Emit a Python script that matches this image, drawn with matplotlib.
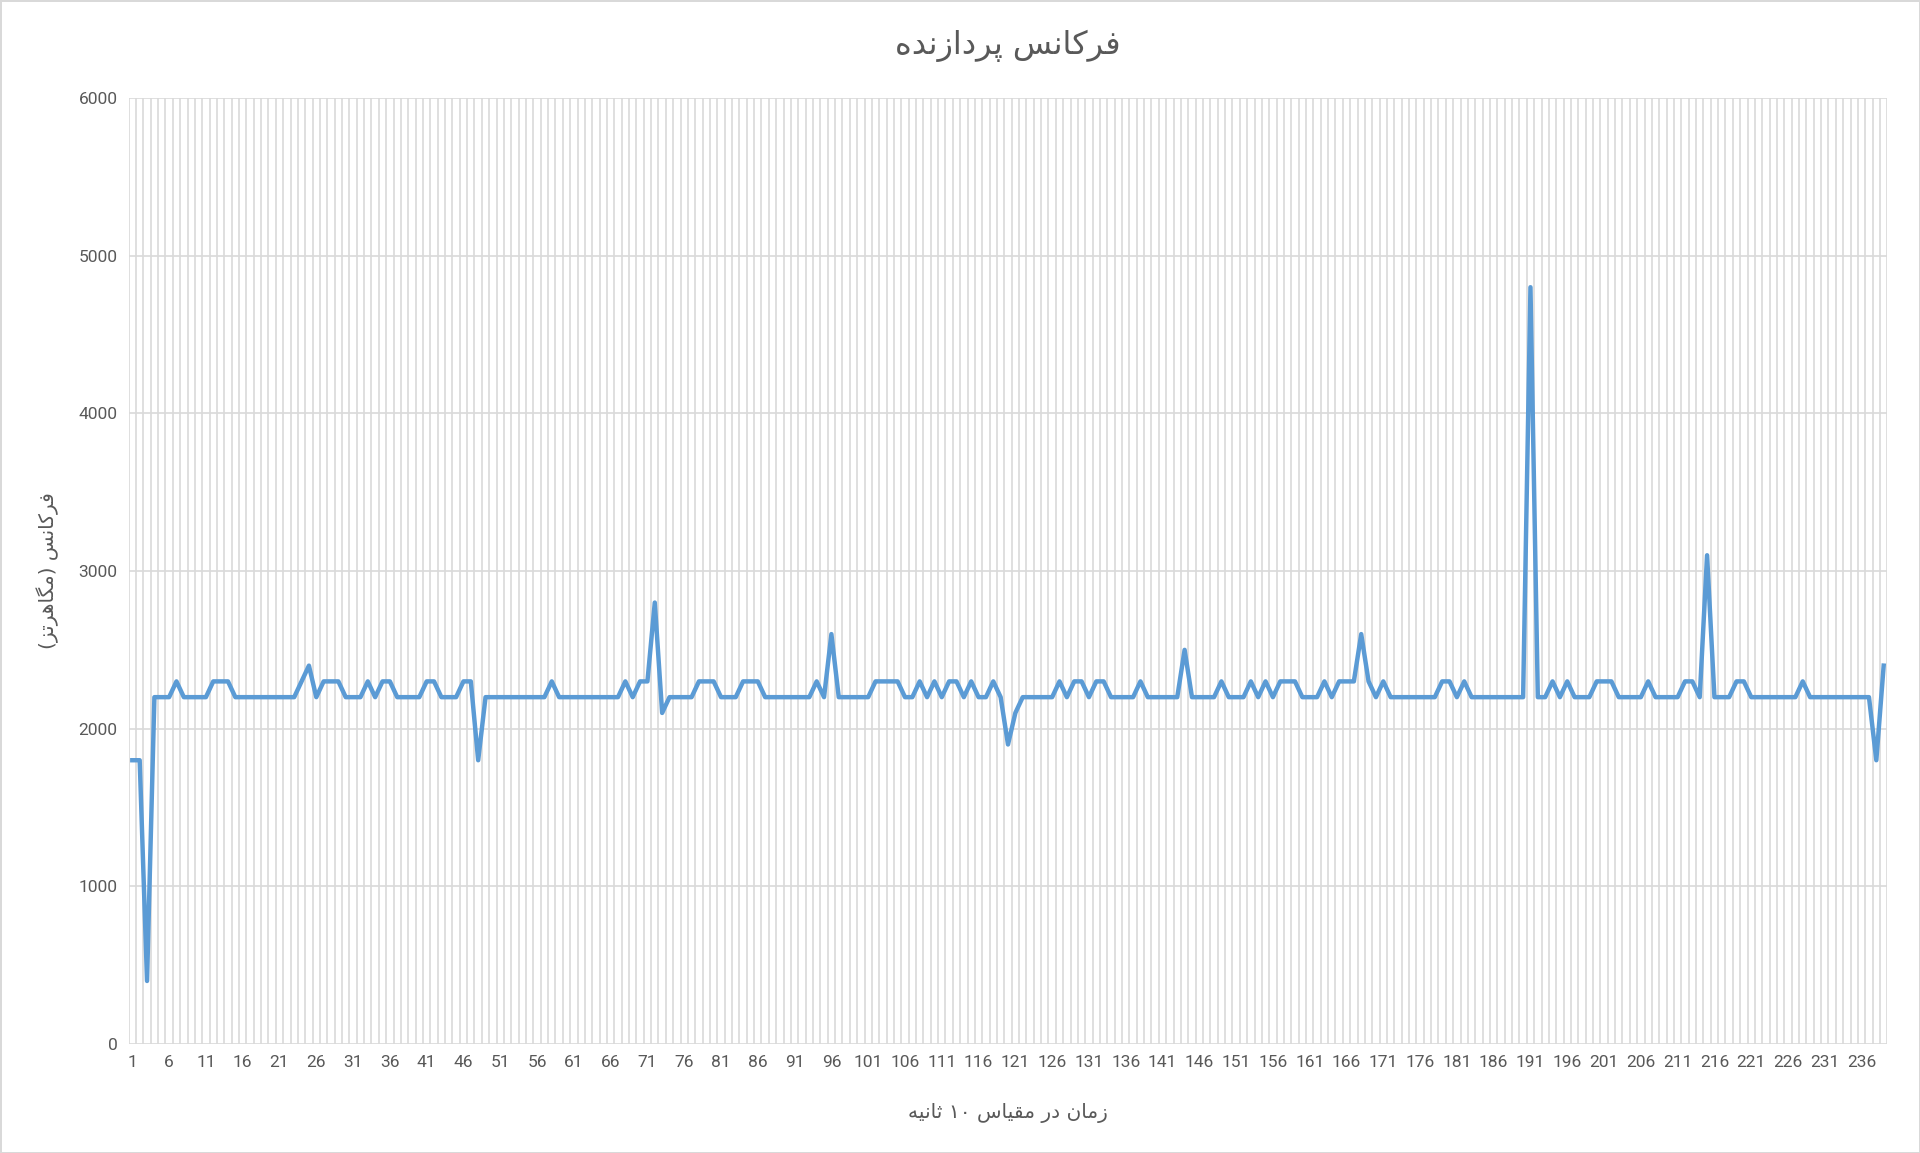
import matplotlib

matplotlib.use("Agg")

import matplotlib.pyplot as plt  # noqa: E402
import numpy as np  # noqa: E402

# processor frequency (MHz), one sample per 10 s
freq = [
    1800, 1800, 400, 2200, 2200, 2200, 2300, 2200, 2200, 2200,
    2200, 2300, 2300, 2300, 2200, 2200, 2200, 2200, 2200, 2200,
    2200, 2200, 2200, 2300, 2400, 2200, 2300, 2300, 2300, 2200,
    2200, 2200, 2300, 2200, 2300, 2300, 2200, 2200, 2200, 2200,
    2300, 2300, 2200, 2200, 2200, 2300, 2300, 1800, 2200, 2200,
    2200, 2200, 2200, 2200, 2200, 2200, 2200, 2300, 2200, 2200,
    2200, 2200, 2200, 2200, 2200, 2200, 2200, 2300, 2200, 2300,
    2300, 2800, 2100, 2200, 2200, 2200, 2200, 2300, 2300, 2300,
    2200, 2200, 2200, 2300, 2300, 2300, 2200, 2200, 2200, 2200,
    2200, 2200, 2200, 2300, 2200, 2600, 2200, 2200, 2200, 2200,
    2200, 2300, 2300, 2300, 2300, 2200, 2200, 2300, 2200, 2300,
    2200, 2300, 2300, 2200, 2300, 2200, 2200, 2300, 2200, 1900,
    2100, 2200, 2200, 2200, 2200, 2200, 2300, 2200, 2300, 2300,
    2200, 2300, 2300, 2200, 2200, 2200, 2200, 2300, 2200, 2200,
    2200, 2200, 2200, 2500, 2200, 2200, 2200, 2200, 2300, 2200,
    2200, 2200, 2300, 2200, 2300, 2200, 2300, 2300, 2300, 2200,
    2200, 2200, 2300, 2200, 2300, 2300, 2300, 2600, 2300, 2200,
    2300, 2200, 2200, 2200, 2200, 2200, 2200, 2200, 2300, 2300,
    2200, 2300, 2200, 2200, 2200, 2200, 2200, 2200, 2200, 2200,
    4800, 2200, 2200, 2300, 2200, 2300, 2200, 2200, 2200, 2300,
    2300, 2300, 2200, 2200, 2200, 2200, 2300, 2200, 2200, 2200,
    2200, 2300, 2300, 2200, 3100, 2200, 2200, 2200, 2300, 2300,
    2200, 2200, 2200, 2200, 2200, 2200, 2200, 2300, 2200, 2200,
    2200, 2200, 2200, 2200, 2200, 2200, 2200, 1800, 2400,
]
samples = np.arange(1, len(freq) + 1)
tick_labels = samples[::5]
y_ticks = [0, 1000, 2000, 3000, 4000, 5000, 6000]

title = "فرکانس پردازنده"
x_label = "زمان در مقیاس ۱۰ ثانیه"
y_label = "فرکانس (مگاهرتز)"

# minimal Persian shaping: isolated, final, initial, medial presentation forms
FORMS = {
    "ا": (0xFE8D, 0xFE8E, None, None), "د": (0xFEA9, 0xFEAA, None, None),
    "ر": (0xFEAD, 0xFEAE, None, None), "ز": (0xFEAF, 0xFEB0, None, None),
    "ت": (0xFE95, 0xFE96, 0xFE97, 0xFE98), "ث": (0xFE99, 0xFE9A, 0xFE9B, 0xFE9C),
    "س": (0xFEB1, 0xFEB2, 0xFEB3, 0xFEB4), "ف": (0xFED1, 0xFED2, 0xFED3, 0xFED4),
    "ق": (0xFED5, 0xFED6, 0xFED7, 0xFED8), "م": (0xFEE1, 0xFEE2, 0xFEE3, 0xFEE4),
    "ن": (0xFEE5, 0xFEE6, 0xFEE7, 0xFEE8), "ه": (0xFEE9, 0xFEEA, 0xFEEB, 0xFEEC),
    "ی": (0xFBFC, 0xFBFD, 0xFBFE, 0xFBFF), "ک": (0xFB8E, 0xFB8F, 0xFB90, 0xFB91),
    "گ": (0xFB92, 0xFB93, 0xFB94, 0xFB95), "پ": (0xFB56, 0xFB57, 0xFB58, 0xFB59),
}
MIRROR = {"(": ")", ")": "("}


def shape(text):
    out = []
    for i, ch in enumerate(text):
        if ch not in FORMS:
            out.append(ch)
            continue
        prev = text[i - 1] if i > 0 else ""
        nxt = text[i + 1] if i + 1 < len(text) else ""
        join_prev = prev in FORMS and FORMS[prev][2] is not None
        join_next = FORMS[ch][2] is not None and nxt in FORMS
        iso, fin, ini, med = FORMS[ch]
        if join_prev and join_next:
            code = med
        elif join_prev:
            code = fin
        elif join_next:
            code = ini
        else:
            code = iso
        out.append(chr(code))
    # visual order: reverse, keeping digit runs left-to-right
    runs, buf = [], ""
    for ch in out:
        if ch.isdigit():
            buf += ch
        else:
            if buf:
                runs.append(buf)
                buf = ""
            runs.append(MIRROR.get(ch, ch))
    if buf:
        runs.append(buf)
    return "".join(reversed(runs))


text_color = "#595959"
grid_color = "#D9D9D9"
num_font = ["Roboto", "DejaVu Sans"]

fig = plt.figure(figsize=(19.2, 11.53), dpi=100)
fig.patch.set_edgecolor("#D9D9D9")
fig.patch.set_linewidth(2)
ax = fig.add_axes([0.067, 0.0945, 0.916, 0.8205])

ax.plot(samples, freq, color="#5B9BD5", linewidth=3.2, solid_joinstyle="round", zorder=3)

ax.set_xlim(0.5, len(freq) + 0.5)
ax.set_ylim(0, 6000)
ax.set_yticks(y_ticks)
ax.set_xticks(tick_labels)
ax.set_xticklabels([str(v) for v in tick_labels])
ax.set_xticks(np.arange(0.5, len(freq) + 1, 1), minor=True)
ax.tick_params(axis="both", which="both", length=0, colors=text_color, labelsize=12.5, pad=8)
for lab in ax.get_xticklabels() + ax.get_yticklabels():
    lab.set_family(num_font)

ax.grid(True, axis="y", color=grid_color, linewidth=1.2, zorder=0)
ax.grid(True, axis="x", which="minor", color=grid_color, linewidth=1.2, zorder=0)
for side in ax.spines.values():
    side.set_visible(False)

ax.set_title(shape(title), fontsize=23, color=text_color, family="DejaVu Sans", pad=32)
ax.set_xlabel(shape(x_label), fontsize=14.5, color=text_color, family="DejaVu Sans", labelpad=24)
ax.set_ylabel(shape(y_label), fontsize=14.5, color=text_color, family="DejaVu Sans", labelpad=14)

fig.savefig("out.png", dpi=100)
plt.close(fig)
